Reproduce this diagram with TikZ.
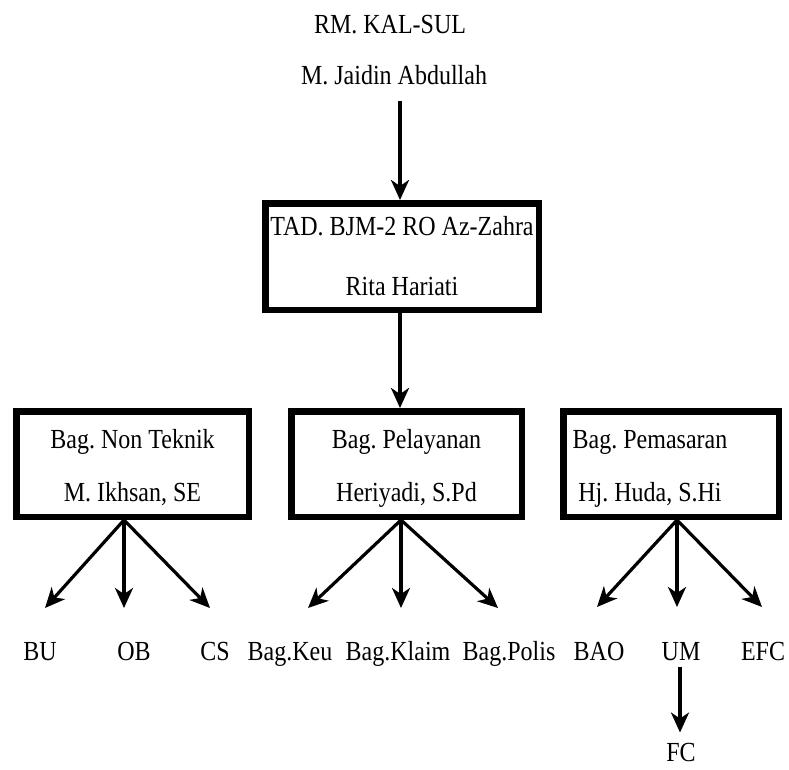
\documentclass[tikz,border=0pt]{standalone}
\usepackage{fontspec}
\setmainfont{Liberation Serif}
\usetikzlibrary{arrows.meta,calc}
\newcommand{\vs}[1]{\scalebox{1}[1.15]{#1}}
\newcommand{\dn}{\rule{0pt}{27pt}}
\frenchspacing
\begin{document}
\begin{tikzpicture}[x=1pt,y=-1pt,
  every node/.style={font=\fontsize{24}{28}\selectfont, inner sep=0pt},
  box/.style={draw, line width=6.5pt, align=center},
  lowbox/.style={box, minimum height=105.5pt, font=\fontsize{24}{53}\selectfont},
  lbl/.style={anchor=base},
  arr/.style={line width=3.2pt, -{Stealth[length=20pt,width=18pt,inset=6pt]}}]
\useasboundingbox (0,0) rectangle (789,769);

% top
\node[lbl] (rm) at (390,33) {\vs{RM. KAL-SUL}};
\node[lbl] (jaidin) at (394,84) {\vs{M. Jaidin Abdullah}};

% TAD box
\node[box, minimum width=273.5pt, minimum height=106.5pt, font=\fontsize{24}{60}\selectfont] (tad) at (402,256.5)
  {\vs{TAD. BJM-2 RO Az-Zahra}\\\vs{Rita Hariati}};

% department boxes
\node[lowbox, minimum width=232.5pt] (nt) at (132.5,464) {\dn\vs{Bag. Non Teknik}\\\vs{M. Ikhsan, SE}};
\node[lowbox, minimum width=230.5pt] (pel) at (406.5,464) {\dn\vs{Bag. Pelayanan}\\\vs{Heriyadi, S.Pd}};
\node[lowbox, minimum width=215.5pt] (pem) at (671,464) {\dn\vs{Bag. Pemasaran}\hspace*{42pt}\\\vs{Hj. Huda, S.Hi}\hspace*{42pt}};

% labels
\node[lbl] (bu) at (40,660) {\vs{BU}};
\node[lbl] (ob) at (134,660) {\vs{OB}};
\node[lbl] (cs) at (215,660) {\vs{CS}};
\node[lbl] (keu) at (290,660) {\vs{Bag.Keu}};
\node[lbl] (klaim) at (398,660) {\vs{Bag.Klaim}};
\node[lbl] (polis) at (509,660) {\vs{Bag.Polis}};
\node[lbl] (bao) at (599,660) {\vs{BAO}};
\node[lbl] (um) at (681,660) {\vs{UM}};
\node[lbl] (efc) at (763,660) {\vs{EFC}};
\node[lbl] (fc) at (681,761) {\vs{FC}};

% arrow tips (free ends)
\coordinate (t1) at (45,608);
\coordinate (t2) at (124,608);
\coordinate (t3) at (210,608);
\coordinate (t4) at (308,608);
\coordinate (t5) at (401,608);
\coordinate (t6) at (498,608);
\coordinate (t7) at (597,607);
\coordinate (t8) at (677,607);
\coordinate (t9) at (762,607);

% connectors
\draw[arr, shorten <=16pt] (jaidin.south -| 400,0) -- (400,0 |- tad.north);
\draw[arr] (tad.south -| 400,0) -- (400,0 |- pel.north);

\foreach \t in {t1,t2,t3} \draw[arr] (nt.south -| t2) -- (\t);
\foreach \t in {t4,t5,t6} \draw[arr] (pel.south -| t5) -- (\t);
\foreach \t in {t7,t8,t9} \draw[arr] (pem.south -| t8) -- (\t);

\draw[arr, shorten <=7pt, shorten >=10pt] (um.south -| 680,0) -- (680,0 |- fc.north);
\end{tikzpicture}
\end{document}
